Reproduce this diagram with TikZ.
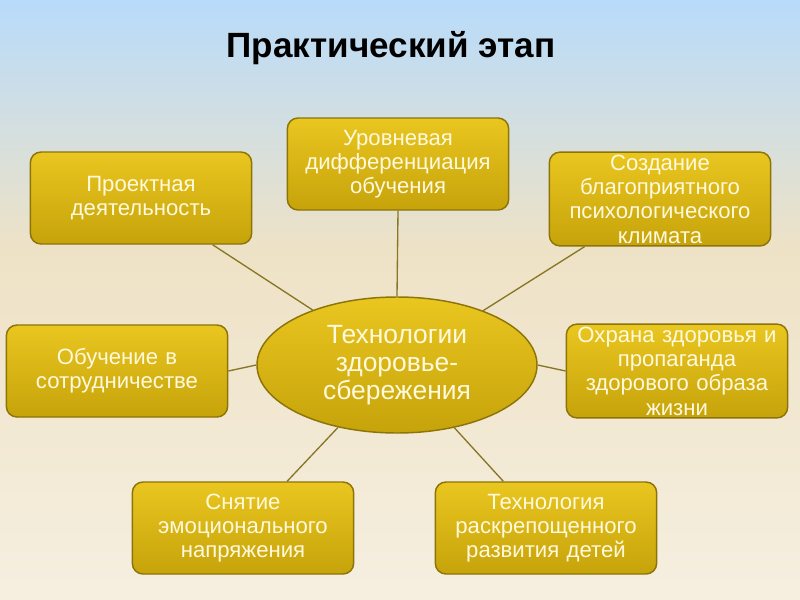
\documentclass[tikz,border=0pt]{standalone}
\usepackage{fontspec}
\setmainfont{Liberation Sans}
\usepackage{xcolor}
\usetikzlibrary{shapes.geometric}
\definecolor{skyblue}{RGB}{184,219,250}
\definecolor{sand}{RGB}{238,226,198}
\definecolor{paper}{RGB}{246,239,224}
\definecolor{goldtop}{RGB}{234,198,32}
\definecolor{goldbot}{RGB}{198,163,10}
\definecolor{goldrim}{RGB}{140,116,8}
\definecolor{olive}{RGB}{135,118,38}
\definecolor{cream}{RGB}{255,249,222}

\begin{document}
\begin{tikzpicture}[
    x=0.75pt, y=-0.75pt,
    box/.style={draw=goldrim, line width=1.1pt, rounded corners=8pt,
                top color=goldtop, bottom color=goldbot,
                minimum width=164pt, minimum height=69pt, inner sep=2pt,
                text width=162pt, align=center, text=cream,
                font=\fontsize{16.6}{18.2}\selectfont},
    hub/.style={ellipse, draw=goldrim, line width=1.1pt,
                top color=goldtop, bottom color=goldbot,
                minimum width=210pt, minimum height=102pt, inner sep=0pt,
                align=center, text=cream, font=\fontsize{19.8}{21}\selectfont},
    lnk/.style={draw=olive, line width=1pt}]
    \shade[top color=skyblue, bottom color=sand] (0,0) rectangle (800,250);
    \shade[top color=sand, bottom color=paper] (0,250) rectangle (800,600);
    \useasboundingbox (0,0) rectangle (800,600);
    \node[font=\bfseries\fontsize{26.3}{30}\selectfont] (ttl) at (391,48)
         {Практический этап};
    \node[hub] (tech) at (397,365) {Технологии\\здоровье-\\сбережения};
    \node[box] (proj)   at (141,198) {Проектная\\деятельность};
    \node[box] (lev)    at (398,164) {Уровневая\\дифференциация\\обучения};
    \node[box] (clim)   at (660,199) {Создание\\благоприятного\\психологического\\климата};
    \node[box] (coop)   at (117,371) {Обучение в\\сотрудничестве};
    \node[box] (health) at (677,371) {Охрана здоровья и\\пропаганда\\здорового образа\\жизни};
    \node[box] (stress) at (243,528) {Снятие\\эмоционального\\напряжения};
    \node[box] (free)   at (546,528) {Технология\\раскрепощенного\\развития детей};
    \draw[lnk] (tech) -- (proj);
    \draw[lnk] (tech.north) -- (lev.south);
    \draw[lnk] (tech) -- (clim);
    \draw[lnk] (tech.west) -- (coop.east);
    \draw[lnk] (tech.east) -- (health.west);
    \draw[lnk] (tech) -- (stress);
    \draw[lnk] (tech) -- (free);
\end{tikzpicture}
\end{document}
